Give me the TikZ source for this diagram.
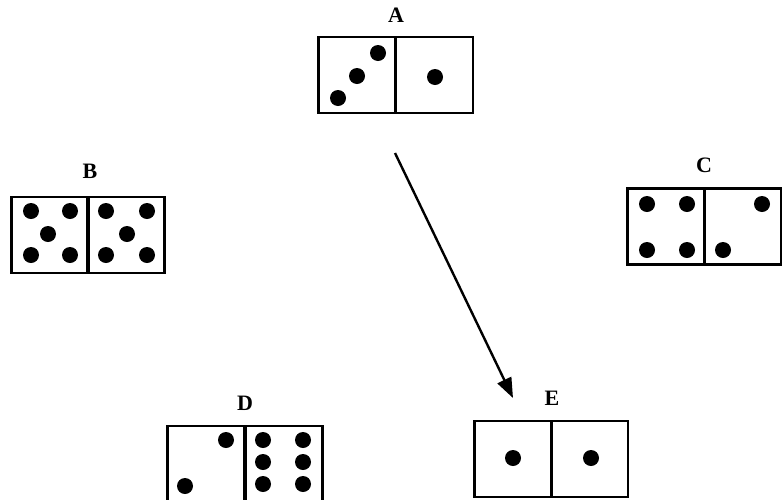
\documentclass[tikz,border=0pt]{standalone}
\usepackage{fontspec}
\setmainfont{Liberation Serif}
\usetikzlibrary{arrows.meta}

\begin{document}
\begin{tikzpicture}[x=0.5pt, y=-0.5pt,
    half/.style={draw, line width=1.1pt, minimum width=38.5pt, minimum height=38pt,
                 inner sep=0pt},
    pip/.style={fill=black},
    lbl/.style={font=\bfseries\fontsize{11}{12}\selectfont, inner sep=1pt},
    move/.style={-{Triangle[length=10pt, width=7.5pt]}, line width=1.2pt}]
  \clip (0,0) rectangle (782,499);
  % domino A
  \node[lbl] (labA) at (396,15) {A};
  \node[half] (aL) at (357,75) {};
  \node[half] (aR) at (434.5,75) {};
  \foreach \p in {(338,98),(357,76),(378,53),(435,77)}
    \fill[pip] \p circle[radius=8];
  % domino B
  \node[lbl] (labB) at (90,171) {B};
  \node[half] (bL) at (50,235) {};
  \node[half] (bR) at (126,235) {};
  \foreach \p in {(31,211),(70,211),(48,234),(31,255),(70,255),
                  (106,211),(147,211),(127,234),(106,255),(147,255)}
    \fill[pip] \p circle[radius=8];
  % domino C
  \node[lbl] (labC) at (704,165) {C};
  \node[half] (cL) at (666,226.5) {};
  \node[half] (cR) at (742.5,226.5) {};
  \foreach \p in {(647,204),(687,204),(647,250),(687,250),(762,204),(723,250)}
    \fill[pip] \p circle[radius=8];
  % domino D
  \node[lbl] (labD) at (245,403) {D};
  \node[half] (dL) at (206,464) {};
  \node[half] (dR) at (284,464) {};
  \foreach \p in {(226,440),(185,486),(263,440),(303,440),(263,462),(303,462),
                  (263,484),(303,484)}
    \fill[pip] \p circle[radius=8];
  % domino E
  \node[lbl] (labE) at (552,398) {E};
  \node[half] (eL) at (513,459) {};
  \node[half] (eR) at (589.5,459) {};
  \foreach \p in {(513,458),(591,458)}
    \fill[pip] \p circle[radius=8];
  % the move
  \coordinate (from) at (395,153);
  \coordinate (to) at (513,398);
  \draw[move] (from) -- (to);
\end{tikzpicture}
\end{document}
